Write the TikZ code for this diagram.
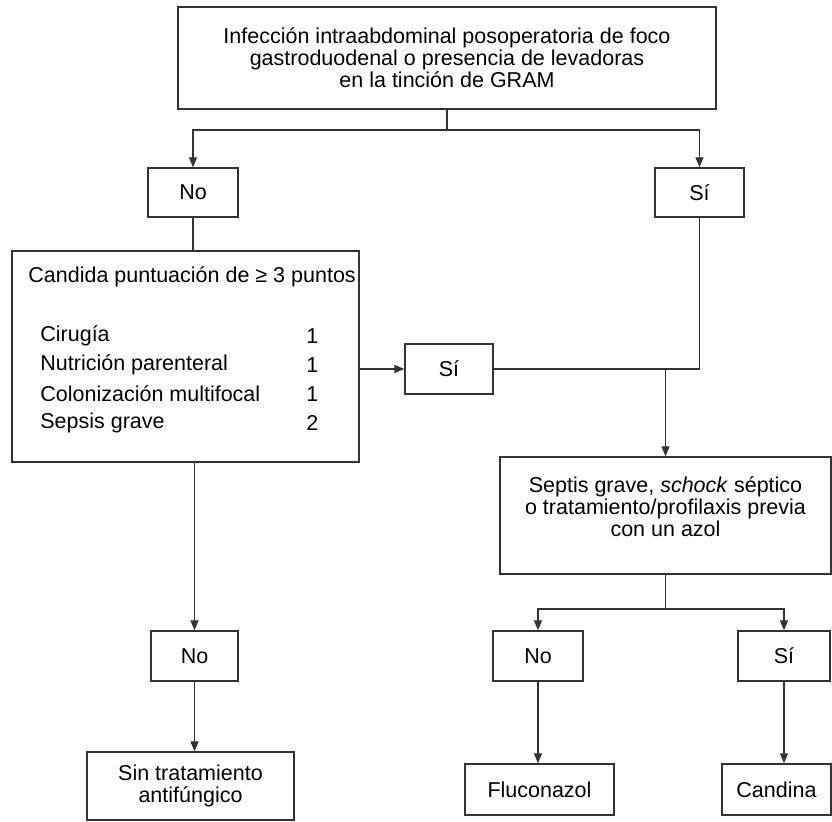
\documentclass[tikz,border=0pt]{standalone}
\usepackage{fontspec}
\setmainfont{Liberation Sans}
\usetikzlibrary{arrows.meta}
\definecolor{ink}{rgb}{0.2, 0.2, 0.2}
\tikzset{box/.style = {draw=ink, line width=0.65pt, inner sep=0, align=center,
                       font=\fontsize{10.75}{11}\selectfont}}
\tikzset{txt/.style = {inner sep=0, font=\fontsize{10.75}{11}\selectfont}}
\tikzset{conn/.style = {draw=ink, line width=0.65pt}}
\tikzset{arr/.style = {conn, -{Triangle[length=5pt, width=4pt]}}}

\begin{document}
\begin{tikzpicture}[x=0.5pt, y=-0.5pt]
      \useasboundingbox (0, 0) rectangle (832, 822);

      % first question
      \node [box, minimum width=269pt, minimum height=51pt] (infeccion) at (447, 58)
            {Infección intraabdominal posoperatoria de foco\\
             gastroduodenal o presencia de levadoras\\
             en la tinción de GRAM};
      \node [box, minimum width=45pt, minimum height=24.5pt] (no1) at (193, 192.5) {No};
      \node [box, minimum width=44.5pt, minimum height=24.5pt] (si1) at (699.5, 192.5) {Sí};
      \coordinate (split1) at (447, 130);

      % candida score
      \node [box, minimum width=173.5pt, minimum height=105.5pt] (score) at (185.5, 356.5) {};
      \node [txt, anchor=west] (scorehead) at (28, 277) {Candida puntuación de ≥ 3 puntos};
      \foreach \crit/\pts [count=\i] in {Cirugía/1, Nutrición parenteral/1,
                                         Colonización multifocal/1, Sepsis grave/2} {
        \node [txt, anchor=west] (crit\i) at (40, 307 + 29*\i) {\crit};
        \node [txt, anchor=west] (pts\i) at (306, 307 + 29*\i) {\pts};
      }
      \node [box, minimum width=44pt, minimum height=25pt] (si2) at (449, 369) {Sí};

      % second question
      \node [box, minimum width=165.5pt, minimum height=58.5pt] (septis) at (665.5, 515.5)
            {Septis grave, \textit{schock} séptico\\
             o tratamiento/profilaxis previa\\
             con un azol\\[-2pt]};
      \coordinate (split2) at (665.5, 609);
      \node [box, minimum width=43.5pt, minimum height=25pt] (no2) at (194.5, 656) {No};
      \node [box, minimum width=45pt, minimum height=25pt] (no3) at (538, 656) {No};
      \node [box, minimum width=46pt, minimum height=25pt] (si3) at (784, 656) {Sí};

      % outcomes
      \node [box, minimum width=103.5pt, minimum height=34pt] (sin) at (190.5, 786)
            {Sin tratamiento\\ antifúngico};
      \node [box, minimum width=74.5pt, minimum height=25.5pt] (fluco) at (539.5, 789.5) {Fluconazol};
      \node [box, minimum width=54.5pt, minimum height=25.5pt] (candina) at (776.5, 789.5) {Candina};

      \draw [arr] (infeccion.south) -- (split1) -| (no1.north);
      \draw [arr] (split1) -| (si1.north);
      \draw [conn] (no1.south) -- (no1.south |- score.north);
      \draw [arr] (score.east |- si2) -- (si2.west);
      \draw [conn] (si1.south) |- (si2.east);
      \draw [arr] (septis.north |- si2.east) -- (septis.north);
      \draw [arr] (no2.north |- score.south) -- (no2.north);
      \draw [arr] (no2.south) -- (no2.south |- sin.north);
      \draw [conn] (septis.south) -- (split2);
      \draw [arr] (split2) -| (no3.north);
      \draw [arr] (split2) -| (si3.north);
      \draw [arr] (no3.south) -- (no3.south |- fluco.north);
      \draw [arr] (si3.south) -- (si3.south |- candina.north);
    \end{tikzpicture}
\end{document}
